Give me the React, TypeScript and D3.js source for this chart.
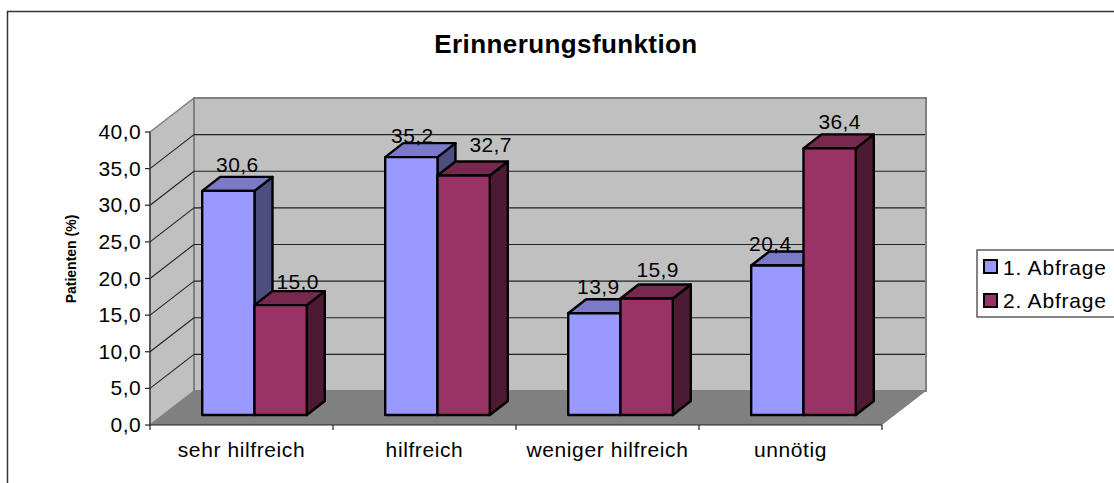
import React from "react";
import * as d3 from "d3";

const categories = ["sehr hilfreich", "hilfreich", "weniger hilfreich", "unnötig"];
const seriesNames = ["1. Abfrage", "2. Abfrage"];
const first = [30.6, 35.2, 13.9, 20.4];
const second = [15.0, 32.7, 15.9, 36.4];
const yTicks = [0, 5, 10, 15, 20, 25, 30, 35, 40];
const title = "Erinnerungsfunktion";
const yTitle = "Patienten (%)";
const front = ["#9999FF", "#993366"];
const topCol = ["#7A7AC8", "#77284F"];
const side = ["#4D4D80", "#4D1A33"];
// hand placement of the value labels, relative to the bar's centre and top edge
const labelShiftX = [[9, 1, 4, -7], [17, 27, 11, 10]];
const labelShiftY = [[-19, -14, -19, -15], [-16, -23, -22, -19]];

const FONT = "'Liberation Sans', Arial, sans-serif";
const fmt = (v: number) => v.toFixed(1).replace(".", ",");

export default function App() {
  const x0 = 150, x1 = 882, y0 = 425, y40 = 132;
  const wdx = 44, wdy = -34; // wall depth
  const bdx = 13, bdy = -10; // bar plane offset
  const cdx = 18, cdy = -14; // bar depth
  const y = d3.scaleLinear().domain([0, 40]).range([y0, y40]);
  const band = d3.scaleBand<string>().domain(categories).range([x0, x1]);
  const barW = 52.3;
  const poly = (p: number[][]) => p.map((q) => q.join(",")).join(" ");
  const series = [first, second];
  return (
    <svg width={1114} height={483} style={{ position: "absolute", left: 0, top: 0, background: "#fff" }} fontFamily={FONT}>
      <path d="M7.5,483 V11.5 H1114" fill="none" stroke="#333" strokeWidth={1.5} />
      <text x={566} y={53} textAnchor="middle" fontSize={26} fontWeight="bold" letterSpacing={0.4} fill="#000">{title}</text>
      {/* walls */}
      <polygon points={poly([[x0, y0], [x0 + wdx, y0 + wdy], [x1 + wdx, y0 + wdy], [x1, y0]])} fill="#808080" />
      <polygon points={poly([[x0, y0], [x0, y40], [x0 + wdx, y40 + wdy], [x0 + wdx, y0 + wdy]])} fill="#C0C0C0" stroke="#808080" strokeWidth={1.5} />
      <rect x={x0 + wdx} y={y40 + wdy} width={x1 - x0} height={y0 - y40} fill="#C0C0C0" stroke="#808080" strokeWidth={2} />
      {/* gridlines */}
      {yTicks.slice(1).map((t) => (
        <g key={t} stroke="#222" strokeWidth={1.1} fill="none">
          {t < 40 && <line x1={x0} y1={y(t)} x2={x0 + wdx} y2={y(t) + wdy} />}
          {t < 40 && <line x1={x0 + wdx} y1={y(t) + wdy} x2={x1 + wdx - 1} y2={y(t) + wdy} />}
        </g>
      ))}
      {/* axes */}
      <line x1={x0} y1={y40} x2={x0} y2={y0} stroke="#333" strokeWidth={1.2} />
      <line x1={x0} y1={y0} x2={x1} y2={y0} stroke="#222" strokeWidth={1.2} />
      {yTicks.map((t) => (
        <g key={t}>
          <line x1={x0 - 5} x2={x0} y1={y(t)} y2={y(t)} stroke="#222" strokeWidth={1.2} />
          <text x={x0 - 9} y={y(t) + 7} textAnchor="end" fontSize={21} letterSpacing={0.4} fill="#000">{fmt(t)}</text>
        </g>
      ))}
      {[...categories.map((c) => band(c)!), x1].map((px, i) => (
        <line key={i} x1={px} x2={px} y1={y0} y2={y0 + 5} stroke="#222" strokeWidth={1.2} />
      ))}
      {categories.map((c) => (
        <text key={c} x={band(c)! + band.bandwidth() / 2} y={457} textAnchor="middle" fontSize={21} letterSpacing={0.6} fill="#000">{c}</text>
      ))}
      <text transform="translate(76,259) rotate(-90)" textAnchor="middle" fontSize={14} fontWeight="bold" fill="#000">{yTitle}</text>
      {/* bars */}
      {categories.map((c, i) => {
        const cx = band(c)! + band.bandwidth() / 2 + bdx;
        return (
          <g key={c} stroke="#000" strokeWidth={2.4} strokeLinejoin="round">
            {series.map((vals, s) => {
              const l = cx + (s - 1) * barW;
              const r = l + barW;
              const b = y0 + bdy;
              const t = y(vals[i]) + bdy;
              return (
                <g key={s}>
                  <polygon points={poly([[r, b], [r + cdx, b + cdy], [r + cdx, t + cdy], [r, t]])} fill={side[s]} />
                  <polygon points={poly([[l, t], [l + cdx, t + cdy], [r + cdx, t + cdy], [r, t]])} fill={topCol[s]} />
                  <rect x={l} y={t} width={barW} height={b - t} fill={front[s]} />
                </g>
              );
            })}
          </g>
        );
      })}
      {categories.map((c, i) => {
        const cx = band(c)! + band.bandwidth() / 2 + bdx;
        return series.map((vals, s) => (
          <text key={c + s} x={cx + (s - 0.5) * barW + labelShiftX[s][i]} y={y(vals[i]) + bdy + labelShiftY[s][i]} textAnchor="middle" fontSize={21} letterSpacing={0.4} fill="#000">{fmt(vals[i])}</text>
        ));
      })}
      {/* legend */}
      <rect x={977} y={250} width={140} height={67} fill="#fff" stroke="#333" strokeWidth={1.2} />
      {seriesNames.map((n, i) => (
        <g key={n}>
          <rect x={984} y={260 + i * 34} width={13} height={13} fill={front[i]} stroke="#000" strokeWidth={2} />
          <text x={1003} y={275 + i * 33} fontSize={21} letterSpacing={0.8} fill="#000">{n}</text>
        </g>
      ))}
    </svg>
  );
}
